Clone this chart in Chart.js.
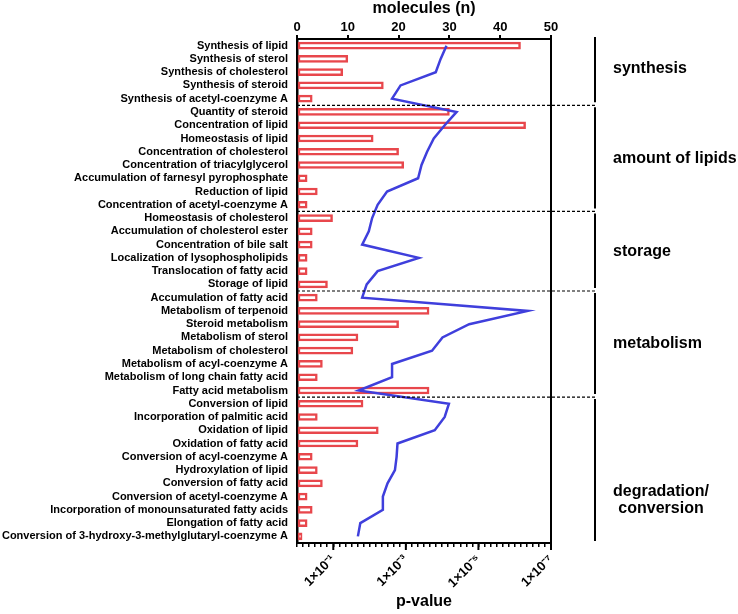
<!DOCTYPE html>
<html>
<head>
<meta charset="utf-8">
<script src="https://cdn.jsdelivr.net/npm/chart.js@4.4.1/dist/chart.umd.min.js"></script>
<style>
  html, body { margin: 0; padding: 0; background: #fff; }
  #wrap { width: 738px; height: 614px; }
</style>
</head>
<body>
<div id="wrap"><canvas id="chart" width="738" height="614"></canvas></div>
<script>
const categories = [
  'Synthesis of lipid', 'Synthesis of sterol', 'Synthesis of cholesterol', 'Synthesis of steroid',
  'Synthesis of acetyl-coenzyme A',
  'Quantity of steroid', 'Concentration of lipid', 'Homeostasis of lipid', 'Concentration of cholesterol',
  'Concentration of triacylglycerol', 'Accumulation of farnesyl pyrophosphate', 'Reduction of lipid',
  'Concentration of acetyl-coenzyme A',
  'Homeostasis of cholesterol', 'Accumulation of cholesterol ester', 'Concentration of bile salt',
  'Localization of lysophospholipids', 'Translocation of fatty acid', 'Storage of lipid',
  'Accumulation of fatty acid', 'Metabolism of terpenoid', 'Steroid metabolism', 'Metabolism of sterol',
  'Metabolism of cholesterol', 'Metabolism of acyl-coenzyme A', 'Metabolism of long chain fatty acid',
  'Fatty acid metabolism',
  'Conversion of lipid', 'Incorporation of palmitic acid', 'Oxidation of lipid', 'Oxidation of fatty acid',
  'Conversion of acyl-coenzyme A', 'Hydroxylation of lipid', 'Conversion of fatty acid',
  'Conversion of acetyl-coenzyme A', 'Incorporation of monounsaturated fatty acids',
  'Elongation of fatty acid', 'Conversion of 3-hydroxy-3-methylglutaryl-coenzyme A'
];

const molecules = [
  44, 10, 9, 17, 3,
  30, 45, 15, 20, 21, 2, 4, 2,
  7, 3, 3, 2, 2, 6,
  4, 26, 20, 12, 11, 5, 4, 26,
  13, 4, 16, 12, 3, 4, 5, 2, 3, 2, 1
];

const pValues = [
  7.6e-5, 1.1e-4, 1.5e-4, 1.4e-3, 2.4e-3,
  4.0e-5, 8.5e-5, 1.7e-4, 2.6e-4, 3.7e-4, 4.6e-4, 3.3e-3, 6.0e-3,
  8.5e-3, 1.05e-2, 1.6e-2, 4.4e-4, 6.0e-3, 1.2e-2,
  1.6e-2, 4.4e-7, 1.8e-5, 9.8e-5, 1.9e-4, 2.4e-3, 2.4e-3, 2.0e-2,
  6.5e-5, 8.5e-5, 1.6e-4, 1.7e-3, 1.8e-3, 2.0e-3, 3.2e-3, 4.3e-3, 4.3e-3, 1.8e-2, 2.1e-2
];

const moleculeTicks = [0, 10, 20, 30, 40, 50];
const pTickExponents = [1, 3, 5, 7];
const pTickLabels = ['1×10⁻¹', '1×10⁻³', '1×10⁻⁵', '1×10⁻⁷'];

const groupNames = ['synthesis', 'amount of lipids', 'storage', 'metabolism', 'degradation/\nconversion'];
const groupSizes = [5, 8, 6, 8, 11];

const FONT = "'Liberation Sans', Arial, sans-serif";
const RED = '#e8474c';
const BLUE = '#3f3fdc';

// p-values are plotted as -log10(p) on a linear axis
const negLogP = pValues.map(p => -Math.log10(p));

// separators, group brackets, right frame line, longer major ticks
const decorations = {
  id: 'decorations',
  afterDraw(chart) {
    const { ctx, chartArea } = chart;
    const y = chart.scales.y;
    const x2 = chart.scales.x2;
    const bracketX = chartArea.right + 44;
    const labelX = chartArea.right + 62;
    const labelShift = [-4, 0, 0, 0, 30];

    ctx.save();
    ctx.strokeStyle = '#000';

    // right frame
    ctx.lineWidth = 2;
    ctx.beginPath();
    ctx.moveTo(chartArea.right, chartArea.top - 1);
    ctx.lineTo(chartArea.right, chartArea.bottom + 1);
    ctx.stroke();

    // major ticks on p-value axis
    pTickExponents.forEach(e => {
      const px = x2.getPixelForValue(e);
      ctx.beginPath();
      ctx.moveTo(px, chartArea.bottom);
      ctx.lineTo(px, chartArea.bottom + 7);
      ctx.stroke();
    });

    let start = 0;
    const seps = [];
    groupSizes.forEach((n, g) => {
      const last = start + n - 1;
      if (g < groupSizes.length - 1) {
        seps.push((y.getPixelForValue(last) + y.getPixelForValue(last + 1)) / 2);
      }
      start += n;
    });

    // dashed separators
    ctx.lineWidth = 1.2;
    ctx.setLineDash([3, 2]);
    seps.forEach(sy => {
      ctx.beginPath();
      ctx.moveTo(chartArea.left, sy);
      ctx.lineTo(bracketX, sy);
      ctx.stroke();
    });
    ctx.setLineDash([]);

    // brackets and labels
    ctx.lineWidth = 2;
    ctx.font = 'bold 16px ' + FONT;
    ctx.fillStyle = '#000';
    ctx.textBaseline = 'middle';
    start = 0;
    groupSizes.forEach((n, g) => {
      const top = g === 0 ? chartArea.top - 2 : seps[g - 1] + 2;
      const bottom = g === groupSizes.length - 1 ? chartArea.bottom - 2 : seps[g] - 3;
      ctx.beginPath();
      ctx.moveTo(bracketX, top);
      ctx.lineTo(bracketX, bottom);
      ctx.stroke();

      const mid = (y.getPixelForValue(start) + y.getPixelForValue(start + n - 1)) / 2 + labelShift[g];
      const lines = groupNames[g].split('\n');
      const maxW = Math.max(...lines.map(l => ctx.measureText(l).width));
      lines.forEach((l, i) => {
        const ly = mid + (i - (lines.length - 1) / 2) * 17;
        if (lines.length > 1) {
          ctx.textAlign = 'center';
          ctx.fillText(l, labelX + maxW / 2, ly);
        } else {
          ctx.textAlign = 'left';
          ctx.fillText(l, labelX, ly);
        }
      });
      start += n;
    });
    ctx.restore();
  }
};

new Chart(document.getElementById('chart'), {
  type: 'bar',
  data: {
    labels: categories,
    datasets: [
      {
        type: 'line',
        label: 'p-value',
        data: negLogP,
        xAxisID: 'x2',
        yAxisID: 'y',
        borderColor: BLUE,
        borderWidth: 2.5,
        pointRadius: 0,
        tension: 0,
        fill: false,
        order: 0
      },
      {
        type: 'bar',
        label: 'molecules (n)',
        data: molecules,
        xAxisID: 'x',
        yAxisID: 'y',
        backgroundColor: '#fff',
        borderColor: RED,
        borderWidth: 2.5,
        borderSkipped: false,
        barThickness: 7,
        order: 1
      }
    ]
  },
  options: {
    indexAxis: 'y',
    responsive: false,
    animation: false,
    layout: { padding: { left: 0, right: 187, top: 0, bottom: 0 } },
    plugins: {
      legend: { display: false },
      tooltip: { enabled: false }
    },
    scales: {
      y: {
        type: 'category',
        position: 'left',
        grid: { display: false, drawTicks: false },
        border: { display: true, color: '#000', width: 2.5 },
        ticks: {
          color: '#000',
          font: { family: FONT, size: 11, weight: 'bold' },
          padding: 9,
          autoSkip: false
        },
        afterFit: s => { s.width = 297; }
      },
      x: {
        type: 'linear',
        position: 'top',
        min: 0,
        max: 50,
        afterBuildTicks: s => { s.ticks = moleculeTicks.map(v => ({ value: v })); },
        grid: { drawOnChartArea: false, color: '#000', tickLength: 4, lineWidth: 2 },
        border: { display: true, color: '#000', width: 2 },
        ticks: {
          color: '#000',
          font: { family: FONT, size: 13, weight: 'bold' },
          padding: 0
        },
        title: {
          display: true,
          text: 'molecules (n)',
          color: '#000',
          font: { family: FONT, size: 16, weight: 'bold' },
          padding: { top: -1, bottom: 0 }
        },
        afterFit: s => { s.height = 39; }
      },
      x2: {
        type: 'linear',
        position: 'bottom',
        min: 0,
        max: 7,
        afterBuildTicks: s => {
          const t = [];
          for (let i = 0; i <= 42; i++) t.push({ value: i / 6 });
          s.ticks = t;
        },
        grid: { drawOnChartArea: false, color: '#000', tickLength: 4, lineWidth: 1.5 },
        border: { display: true, color: '#000', width: 2 },
        ticks: {
          color: '#000',
          autoSkip: false,
          minRotation: 45,
          maxRotation: 45,
          padding: 5,
          font: { family: FONT, size: 13, weight: 'bold' },
          callback: v => {
            const r = Math.round(v);
            const k = pTickExponents.indexOf(r);
            return Math.abs(v - r) < 1e-6 && k >= 0 ? pTickLabels[k] : '';
          }
        },
        title: {
          display: true,
          text: 'p-value',
          color: '#000',
          font: { family: FONT, size: 16, weight: 'bold' },
          padding: { top: 0, bottom: 3 }
        },
        afterFit: s => { s.height = 71; }
      }
    }
  },
  plugins: [decorations]
});
</script>
</body>
</html>
